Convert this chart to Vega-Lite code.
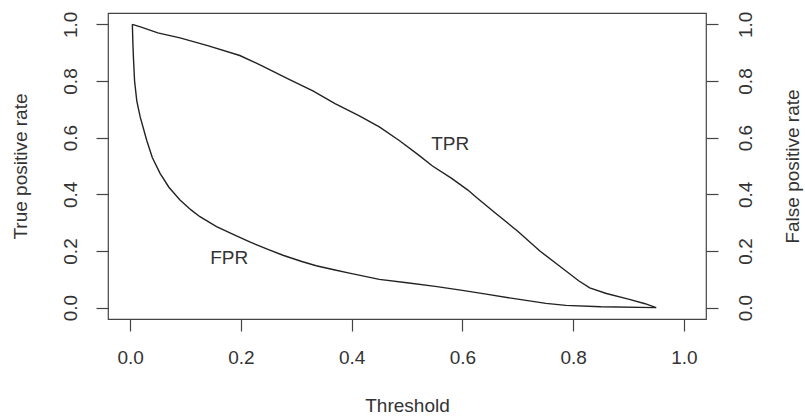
{
  "$schema": "https://vega.github.io/schema/vega-lite/v6.json",
  "width": 598,
  "height": 306,
  "autosize": {"type": "none"},
  "padding": {"left": 108, "top": 13, "right": 99, "bottom": 99},
  "background": "white",
  "config": {
    "view": {"stroke": "#444", "strokeWidth": 1.2},
    "font": "Liberation Sans",
    "axis": {
      "grid": false,
      "domain": false,
      "tickColor": "#444",
      "tickSize": 12,
      "tickWidth": 1.2,
      "labelFont": "Liberation Sans",
      "labelFontSize": 19,
      "labelColor": "#333",
      "titleFont": "Liberation Sans",
      "titleFontSize": 19,
      "titleFontWeight": "normal",
      "titleColor": "#333"
    }
  },
  "datasets": {
    "curves": [
      {"series": "TPR", "t": 0.004, "v": 1.0},
      {"series": "TPR", "t": 0.02, "v": 0.99},
      {"series": "TPR", "t": 0.05, "v": 0.97},
      {"series": "TPR", "t": 0.09, "v": 0.952},
      {"series": "TPR", "t": 0.14, "v": 0.925},
      {"series": "TPR", "t": 0.198, "v": 0.89},
      {"series": "TPR", "t": 0.24, "v": 0.852},
      {"series": "TPR", "t": 0.288, "v": 0.805},
      {"series": "TPR", "t": 0.33, "v": 0.765},
      {"series": "TPR", "t": 0.37, "v": 0.72},
      {"series": "TPR", "t": 0.414, "v": 0.677},
      {"series": "TPR", "t": 0.45, "v": 0.638},
      {"series": "TPR", "t": 0.486, "v": 0.59},
      {"series": "TPR", "t": 0.52, "v": 0.54},
      {"series": "TPR", "t": 0.546, "v": 0.5},
      {"series": "TPR", "t": 0.58, "v": 0.457},
      {"series": "TPR", "t": 0.61, "v": 0.415},
      {"series": "TPR", "t": 0.625, "v": 0.39},
      {"series": "TPR", "t": 0.66, "v": 0.333},
      {"series": "TPR", "t": 0.7, "v": 0.27},
      {"series": "TPR", "t": 0.74, "v": 0.2},
      {"series": "TPR", "t": 0.78, "v": 0.14},
      {"series": "TPR", "t": 0.81, "v": 0.095},
      {"series": "TPR", "t": 0.83, "v": 0.07},
      {"series": "TPR", "t": 0.86, "v": 0.05},
      {"series": "TPR", "t": 0.9, "v": 0.03},
      {"series": "TPR", "t": 0.93, "v": 0.014},
      {"series": "TPR", "t": 0.95, "v": 0.0},
      {"series": "FPR", "t": 0.004, "v": 1.0},
      {"series": "FPR", "t": 0.005, "v": 0.93},
      {"series": "FPR", "t": 0.006, "v": 0.88},
      {"series": "FPR", "t": 0.008, "v": 0.8},
      {"series": "FPR", "t": 0.012, "v": 0.73},
      {"series": "FPR", "t": 0.018, "v": 0.674},
      {"series": "FPR", "t": 0.03, "v": 0.59},
      {"series": "FPR", "t": 0.04, "v": 0.53},
      {"series": "FPR", "t": 0.054, "v": 0.474},
      {"series": "FPR", "t": 0.07, "v": 0.425},
      {"series": "FPR", "t": 0.09, "v": 0.38},
      {"series": "FPR", "t": 0.11, "v": 0.345},
      {"series": "FPR", "t": 0.126, "v": 0.321},
      {"series": "FPR", "t": 0.156, "v": 0.286},
      {"series": "FPR", "t": 0.19, "v": 0.255},
      {"series": "FPR", "t": 0.216, "v": 0.232},
      {"series": "FPR", "t": 0.25, "v": 0.205},
      {"series": "FPR", "t": 0.276, "v": 0.185},
      {"series": "FPR", "t": 0.31, "v": 0.163},
      {"series": "FPR", "t": 0.336, "v": 0.148},
      {"series": "FPR", "t": 0.37, "v": 0.133},
      {"series": "FPR", "t": 0.396, "v": 0.122},
      {"series": "FPR", "t": 0.45, "v": 0.1},
      {"series": "FPR", "t": 0.5, "v": 0.088},
      {"series": "FPR", "t": 0.551, "v": 0.075},
      {"series": "FPR", "t": 0.6, "v": 0.061},
      {"series": "FPR", "t": 0.643, "v": 0.048},
      {"series": "FPR", "t": 0.7, "v": 0.03},
      {"series": "FPR", "t": 0.751, "v": 0.015},
      {"series": "FPR", "t": 0.787, "v": 0.008},
      {"series": "FPR", "t": 0.85, "v": 0.003},
      {"series": "FPR", "t": 0.95, "v": 0.0}
    ],
    "labels": [
      {"label": "TPR", "t": 0.578, "v": 0.577},
      {"label": "FPR", "t": 0.179, "v": 0.176}
    ]
  },
  "layer": [
    {
      "data": {"name": "curves"},
      "mark": {"type": "line", "color": "#222", "strokeWidth": 1.4, "clip": true},
      "encoding": {
        "x": {
          "field": "t", "type": "quantitative",
          "scale": {"domain": [-0.04, 1.04], "nice": false, "zero": false},
          "axis": {
            "values": [0, 0.2, 0.4, 0.6, 0.8, 1.0],
            "format": ".1f",
            "title": "Threshold",
            "labelPadding": 26,
            "labelBaseline": "middle",
            "titleY": 86,
            "titleBaseline": "middle"
          }
        },
        "y": {
          "field": "v", "type": "quantitative",
          "scale": {"domain": [-0.04, 1.04], "nice": false, "zero": false},
          "axis": {
            "orient": "left",
            "values": [0, 0.2, 0.4, 0.6, 0.8, 1.0],
            "format": ".1f",
            "title": "True positive rate",
            "labelAngle": 270,
            "labelAlign": "center",
            "labelBaseline": "middle",
            "labelPadding": 26,
            "titleAngle": 270,
            "titleX": -88,
            "titleY": 153,
            "titleAlign": "center",
            "titleBaseline": "middle"
          }
        },
        "detail": {"field": "series"}
      }
    },
    {
      "data": {"name": "labels"},
      "mark": {"type": "text", "font": "Liberation Sans", "fontSize": 19, "color": "#333", "align": "center", "baseline": "middle"},
      "encoding": {
        "x": {"field": "t", "type": "quantitative"},
        "y": {
          "field": "v", "type": "quantitative",
          "scale": {"domain": [-0.04, 1.04], "nice": false, "zero": false},
          "axis": {
            "orient": "right",
            "values": [0, 0.2, 0.4, 0.6, 0.8, 1.0],
            "format": ".1f",
            "title": "False positive rate",
            "labelAngle": 270,
            "labelAlign": "center",
            "labelBaseline": "middle",
            "labelPadding": 27,
            "titleAngle": 270,
            "titleX": 86,
            "titleY": 153,
            "titleAlign": "center",
            "titleBaseline": "middle"
          }
        },
        "text": {"field": "label"}
      }
    }
  ],
  "resolve": {"scale": {"y": "independent"}, "axis": {"y": "independent"}}
}
